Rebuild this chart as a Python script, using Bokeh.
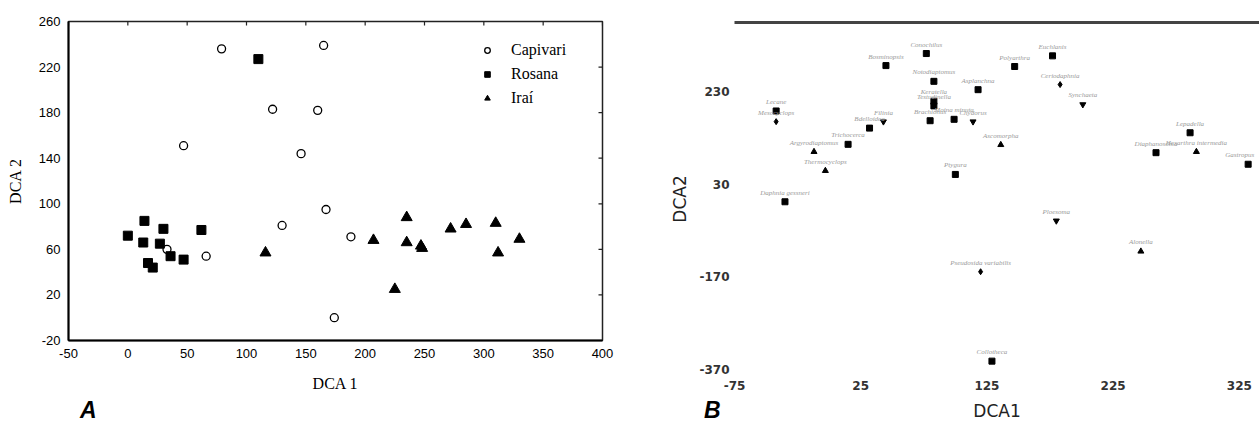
import math
from bokeh.plotting import figure
from bokeh.layouts import row, column
from bokeh.models import LinearAxis, FixedTicker, ColumnDataSource, Range1d, Div, CDSView, BooleanFilter
from bokeh.core.properties import value
from bokeh.embed import file_html
from bokeh.resources import INLINE

# ---------------- Panel A data (sites) ----------------
cap_x = [79, 165, 122, 160, 47, 146, 167, 130, 33, 66, 188, 174]
cap_y = [236, 239, 183, 182, 151, 144, 95, 81, 60, 54, 71, 0]
ros_x = [110, 14, 0, 30, 62, 13, 27, 36, 47, 17, 21]
ros_y = [227, 85, 72, 78, 77, 66, 65, 54, 51, 48, 44]
ira_x = [116, 207, 235, 235, 247, 248, 225, 272, 285, 310, 312, 330]
ira_y = [57, 68, 88, 66, 63, 61, 25, 78, 82, 83, 57, 69]
a_xticks = [-50, 0, 50, 100, 150, 200, 250, 300, 350, 400]
a_yticks = [-20, 20, 60, 100, 140, 180, 220, 260]

# ---------------- Panel B data (species) ----------------
sp_names = ["Conochilus", "Bosminopsis", "Notodiaptomus", "Keratella", "Testudinella",
            "Lecane", "Mesocyclops", "Filinia", "Brachionus", "Bdelloidea",
            "Trichocerca", "Argyrodiaptomus", "Thermocyclops", "Daphnia gessneri",
            "Euchlanis", "Polyarthra", "Asplanchna", "Ceriodaphnia", "Synchaeta",
            "Moina minuta", "Chydorus", "Ascomorpha", "Ptygura", "Lepadella",
            "Diaphanosoma", "Hexarthra intermedia", "Gastropus", "Ploesoma",
            "Alonella", "Pseudosida variabilis", "Collotheca"]
sp_x = [77, 45, 83, 83, 83, -42, -42, 43, 80, 32, 15, -12, -3, -35,
        177, 147, 118, 183, 201, 99, 114, 136, 100, 286, 259, 291, 332,
        180, 247, 120, 129]
sp_y = [312, 286, 252, 209, 199, 188, 165, 165, 167, 151, 116, 100, 59, -8,
        307, 284, 234, 245, 202, 170, 165, 115, 51, 141, 98, 100, 73,
        -49, -115, -159, -352]
sp_marker = ["square", "square", "square", "square", "square", "square", "diamond",
             "inverted_triangle", "square", "square", "square", "triangle", "triangle",
             "square", "square", "square", "square", "diamond", "inverted_triangle",
             "square", "inverted_triangle", "triangle", "square", "square", "square",
             "triangle", "square", "inverted_triangle", "triangle", "diamond", "square"]
b_xticks = [-75, 25, 125, 225, 325]
b_yticks = [-370, -170, 30, 230]
panel_letters = ["A", "B"]

SERIF = "Liberation Serif"
SANS = "Liberation Sans"


def plain_minus(ticks):
    return {t: str(t) for t in ticks if t < 0}


# ================= Panel A =================
pA = figure(width=650, height=423, x_range=Range1d(a_xticks[0], a_xticks[-1]),
            y_range=Range1d(a_yticks[0], a_yticks[-1]),
            output_backend="svg", toolbar_location=None,
            min_border_left=68, min_border_right=48, min_border_top=21, min_border_bottom=83,
            x_axis_label="DCA 1", y_axis_label="DCA 2")
pA.grid.visible = False
pA.outline_line_color = "#222222"
pA.outline_line_width = 1.5
pA.background_fill_color = "white"

for ax, ticks in ((pA.xaxis[0], a_xticks), (pA.yaxis[0], a_yticks)):
    ax.ticker = FixedTicker(ticks=ticks)
    ax.major_label_overrides = plain_minus(ticks)
    ax.major_tick_in = 0
    ax.major_tick_out = 0
    ax.minor_tick_line_color = None
    ax.axis_line_width = 2
    ax.axis_line_color = "black"
    ax.major_label_text_font = SANS
    ax.major_label_text_font_size = "13px"
    ax.major_label_text_color = "black"
    ax.major_label_standoff = 8
    ax.axis_label_text_font = SERIF
    ax.axis_label_text_font_size = "16px"
    ax.axis_label_text_font_style = "normal"
    ax.axis_label_text_color = "black"
pA.xaxis[0].axis_label_standoff = 14
pA.yaxis[0].axis_label_standoff = 12

# inward tick marks on the top and right frame edges (half of each dash is clipped)
pA.scatter(a_xticks, [a_yticks[-1]] * len(a_xticks), marker="dash", angle=math.pi / 2,
           size=8, line_color="#222222", line_width=1.2)
pA.scatter([a_xticks[-1]] * len(a_yticks), a_yticks, marker="dash",
           size=8, line_color="#222222", line_width=1.2)

pA.scatter(cap_x, cap_y, marker="circle", size=8, fill_color="white", line_color="black",
           line_width=1.3, legend_label="Capivari")
pA.scatter(ros_x, ros_y, marker="square", size=9, fill_color="black", line_color="black",
           legend_label="Rosana")
pA.scatter(ira_x, ira_y, marker="triangle", size=11, fill_color="black", line_color="black",
           legend_label="Iraí")

lg = pA.legend[0]
lg.location = (412, 230)
lg.border_line_color = None
lg.background_fill_alpha = 0
lg.padding = 0
lg.margin = 0
lg.spacing = 0
lg.glyph_width = 14
lg.glyph_height = 24
lg.label_height = 24
lg.label_standoff = 17
lg.label_text_font = SERIF
lg.label_text_font_size = "16px"
lg.label_text_color = "black"

# ================= Panel B =================
pB = figure(width=609, height=423, x_range=Range1d(-75, 341), y_range=Range1d(-383, 379),
            output_backend="svg", toolbar_location=None,
            min_border_left=84, min_border_right=0, min_border_top=22, min_border_bottom=45,
            x_axis_label="DCA1", y_axis_label="DCA2")
pB.grid.visible = False
pB.outline_line_color = None

for ax, ticks in ((pB.xaxis[0], b_xticks), (pB.yaxis[0], b_yticks)):
    ax.ticker = FixedTicker(ticks=ticks)
    ax.major_label_overrides = plain_minus(ticks)
    ax.major_tick_in = 0
    ax.major_tick_out = 0
    ax.minor_tick_line_color = None
    ax.axis_line_color = None
    ax.major_label_text_font = "DejaVu Sans"
    ax.major_label_text_font_size = "12px"
    ax.major_label_text_font_style = "bold"
    ax.major_label_text_color = "#333333"
    ax.major_label_standoff = 5
    ax.axis_label_text_font = "DejaVu Sans"
    ax.axis_label_text_font_size = "17px"
    ax.axis_label_text_font_style = "normal"
    ax.axis_label_text_color = "#222222"
pB.xaxis[0].axis_label_standoff = 8
pB.yaxis[0].axis_label_standoff = 6

topB = LinearAxis(ticker=FixedTicker(ticks=[]), major_tick_in=0, major_tick_out=0,
                  minor_tick_line_color=None, axis_line_width=3, axis_line_color="#444444")
pB.add_layout(topB, "above")

src = ColumnDataSource(dict(x=sp_x, y=sp_y, name=sp_names, marker=sp_marker))
pB.scatter("x", "y", source=src, marker="marker", size=6, fill_color="black",
           line_color="black")

# labels centred above each point; those at the right edge are right-aligned so they fit
edge = [x > 320 for x in sp_x]
label_style = dict(text_font=value(SERIF), text_font_size="7px", text_font_style="italic",
                   text_color="#9a9a9a", text_baseline="bottom", y_offset=-5)
pB.text("x", "y", text="name", source=src, text_align="center",
        view=CDSView(filter=BooleanFilter([not e for e in edge])), **label_style)
pB.text("x", "y", text="name", source=src, text_align="right", x_offset=6,
        view=CDSView(filter=BooleanFilter(edge)), **label_style)


# ---------------- panel letters (HTML text, absolutely positioned) ----------------
def letter(txt, left):
    return Div(text=txt, width=24, height=23,
               styles={"position": "absolute", "left": f"{left}px", "top": "399px",
                       "font-family": SANS, "font-size": "23px", "font-weight": "bold",
                       "font-style": "italic", "color": "black", "line-height": "23px",
                       "margin": "0", "padding": "0", "overflow": "visible"})


divA = letter(panel_letters[0], 80)
divB = letter(panel_letters[1], 704)

layout = row(pA, column(pB), divA, divB)
open("out.html", "w").write(file_html(layout, INLINE))
